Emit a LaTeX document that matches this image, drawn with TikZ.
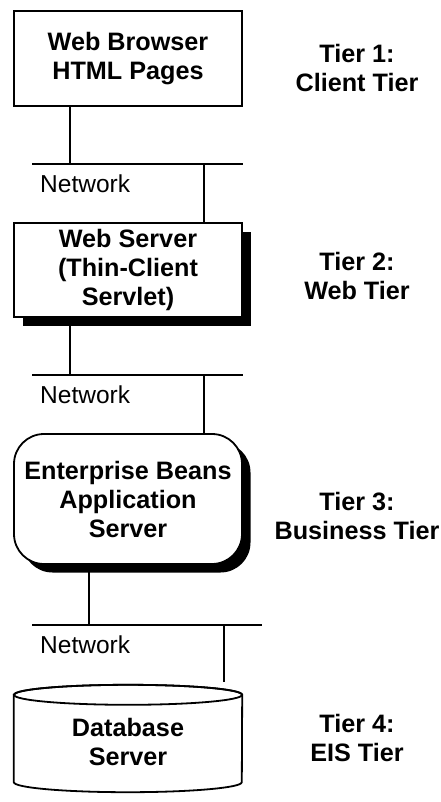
\documentclass[tikz,border=0pt]{standalone}
\usepackage{fontspec}
\setmainfont{Liberation Sans}
\usetikzlibrary{shadows}

\tikzset{
  wire/.style={line width=1.8pt},
  tierbox/.style={draw, line width=1.8pt, fill=white, inner sep=0pt,
    minimum width=228pt, align=center, font=\bfseries\fontsize{25.2}{29}\selectfont},
  hardshadow/.style={drop shadow={shadow xshift=8.5pt, shadow yshift=-8.5pt,
    fill=black, opacity=1}},
  tiertext/.style={align=center, font=\bfseries\fontsize{25.2}{29}\selectfont},
  nettext/.style={anchor=base west, inner sep=0pt, font=\fontsize{24.5}{29}\selectfont},
}

\begin{document}
\begin{tikzpicture}[x=1pt, y=-1pt]
  \useasboundingbox[fill=white] (0,0) rectangle (440,802);

  % Tier 1: client
  \node[tierbox, minimum height=95pt] (browser) at (128,58.5) {Web Browser\\HTML Pages};
  \node[tiertext] (t1) at (357,67.5) {Tier 1:\\Client Tier};

  % first network segment
  \coordinate (n1w) at (32,164);
  \coordinate (n1e) at (243,164);
  \draw[wire] (n1w) -- (n1e);
  \node[nettext] (net1) at (40,192.5) {Network};

  % Tier 2: web
  \node[tierbox, hardshadow, minimum height=94pt] (web) at (128,270)
    {Web Server\\(Thin-Client\\Servlet)};
  \node[tiertext] (t2) at (357,276) {Tier 2:\\Web Tier};

  \draw[wire] (browser.south -| 70,0) -- (n1w -| 70,0);
  \draw[wire] (n1w -| 204,0) -- (web.north -| 204,0);

  % second network segment
  \coordinate (n2w) at (32,375);
  \coordinate (n2e) at (243,375);
  \draw[wire] (n2w) -- (n2e);
  \node[nettext] (net2) at (40,403.5) {Network};

  % Tier 3: business
  \node[tierbox, hardshadow, rounded corners=30pt, minimum height=130pt] (app) at (128,499)
    {Enterprise Beans\\Application\\Server};
  \node[tiertext] (t3) at (357,516) {Tier 3:\\Business Tier};

  \draw[wire] (web.south -| 70,0) -- (n2w -| 70,0);
  \draw[wire] (n2w -| 204,0) -- (app.north -| 204,0);

  % third network segment
  \coordinate (n3w) at (32,625);
  \coordinate (n3e) at (262,625);
  \draw[wire] (n3w) -- (n3e);
  \node[nettext] (net3) at (40,653) {Network};

  % Tier 4: database cylinder
  \node[inner sep=0pt, minimum width=228pt, minimum height=87pt] (db) at (128,738.5) {};
  \fill[black, shift={(8.5pt,-8.5pt)}]
    (db.north west) -- (db.south west)
    arc[start angle=180, end angle=360, x radius=114pt, y radius=10pt]
    -- (db.north east)
    arc[start angle=0, end angle=180, x radius=114pt, y radius=10pt] -- cycle;
  \filldraw[wire, fill=white]
    (db.north west) -- (db.south west)
    arc[start angle=180, end angle=360, x radius=114pt, y radius=10pt]
    -- (db.north east)
    arc[start angle=0, end angle=180, x radius=114pt, y radius=10pt] -- cycle;
  \draw[wire] (db.north) ellipse[x radius=114pt, y radius=10pt];
  \node[tiertext] (dbtext) at (128,742) {Database\\Server};
  \node[tiertext] (t4) at (357,737.5) {Tier 4:\\EIS Tier};

  \coordinate (dbtap) at (224,682);
  \draw[wire] (app.south -| 89,0) -- (n3w -| 89,0);
  \draw[wire] (n3w -| 224,0) -- (dbtap);
\end{tikzpicture}
\end{document}
